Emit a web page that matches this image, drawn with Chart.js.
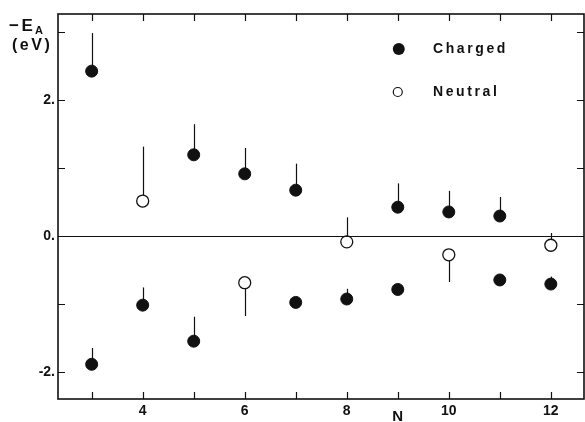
<!DOCTYPE html>
<html>
<head>
<meta charset="utf-8">
<script src="https://cdn.jsdelivr.net/npm/chart.js@4"></script>
<style>
  html, body { margin: 0; padding: 0; background: #fff; }
  canvas { display: block; }
</style>
</head>
<body>
<canvas id="eaChart" width="585" height="422"></canvas>
<script>
// cluster size N, energy -E_A (eV), and end of the vertical bar for each point
const chargedN   = [3, 5, 6, 7, 9, 10, 11, 3, 4, 5, 7, 8, 9, 11, 12];
const chargedE   = [2.42, 1.19, 0.91, 0.67, 0.42, 0.35, 0.29, -1.89, -1.02, -1.55, -0.98, -0.93, -0.79, -0.65, -0.71];
const chargedBar = [2.98, 1.64, 1.29, 1.06, 0.77, 0.66, 0.57, -1.65, -0.76, -1.19, null, -0.78, null, null, -0.60];

const neutralN   = [4, 6, 8, 10, 12];
const neutralE   = [0.51, -0.69, -0.09, -0.28, -0.14];
const neutralBar = [1.31, -1.18, 0.27, -0.68, 0.04];

const xTicks = [4, 6, 8, 10, 12];
const yTicks = [-2, 0, 2];
const xMinor = [3, 4, 5, 6, 7, 8, 9, 10, 11, 12];
const yMinor = [-2, -1, 0, 1, 2, 3];

const ink = '#111';
const family = '"Liberation Sans", Arial, sans-serif';

function pts(xs, ys) {
  return xs.map((x, i) => ({ x: x, y: ys[i] }));
}

// thin vertical bars from each point to its bar end
const errorBars = {
  id: 'errorBars',
  beforeDatasetsDraw(chart) {
    const ctx = chart.ctx, xs = chart.scales.x, ys = chart.scales.y;
    ctx.save();
    ctx.strokeStyle = ink;
    ctx.lineWidth = 1.2;
    [[chargedN, chargedE, chargedBar], [neutralN, neutralE, neutralBar]].forEach(([n, e, b]) => {
      n.forEach((x, i) => {
        if (b[i] === null) return;
        const px = Math.round(xs.getPixelForValue(x)) + 0.5;
        ctx.beginPath();
        ctx.moveTo(px, ys.getPixelForValue(e[i]));
        ctx.lineTo(px, ys.getPixelForValue(b[i]));
        ctx.stroke();
      });
    });
    ctx.restore();
  }
};

// frame, inward ticks, zero line and the text around the plot
const frame = {
  id: 'frame',
  afterDraw(chart) {
    const ctx = chart.ctx, a = chart.chartArea, xs = chart.scales.x, ys = chart.scales.y;
    const t = 7;
    ctx.save();
    ctx.strokeStyle = ink;
    ctx.lineWidth = 1.6;
    ctx.strokeRect(a.left, a.top, a.right - a.left, a.bottom - a.top);

    ctx.lineWidth = 1.2;
    ctx.beginPath();
    xMinor.forEach(v => {
      const px = Math.round(xs.getPixelForValue(v)) + 0.5;
      ctx.moveTo(px, a.bottom); ctx.lineTo(px, a.bottom - t);
      ctx.moveTo(px, a.top); ctx.lineTo(px, a.top + t);
    });
    yMinor.forEach(v => {
      const py = Math.round(ys.getPixelForValue(v)) + 0.5;
      ctx.moveTo(a.left, py); ctx.lineTo(a.left + t, py);
      ctx.moveTo(a.right, py); ctx.lineTo(a.right - t, py);
    });
    const zy = Math.round(ys.getPixelForValue(0)) + 0.5;
    ctx.moveTo(a.left, zy); ctx.lineTo(a.right, zy);
    ctx.stroke();

    // axis titles
    ctx.fillStyle = ink;
    ctx.textBaseline = 'alphabetic';
    ctx.textAlign = 'left';
    ctx.font = 'bold 17px ' + family;
    ctx.letterSpacing = '2.5px';
    ctx.fillText('\u2212E', 9, 31);
    ctx.letterSpacing = '0px';
    ctx.font = 'bold 11px ' + family;
    ctx.fillText('A', 35, 34);
    ctx.font = 'bold 16px ' + family;
    ctx.letterSpacing = '2.5px';
    ctx.fillText('(eV)', 12, 50);
    ctx.letterSpacing = '0px';
    ctx.font = 'bold 15px ' + family;
    ctx.textAlign = 'center';
    ctx.fillText('N', xs.getPixelForValue(9), 421);

    // legend
    const lx = xs.getPixelForValue(9) + 1;
    const ly1 = 49, ly2 = 92;
    ctx.beginPath();
    ctx.arc(lx, ly1, 6, 0, Math.PI * 2);
    ctx.fill();
    ctx.beginPath();
    ctx.arc(lx - 1, ly2, 4.5, 0, Math.PI * 2);
    ctx.fillStyle = '#fff';
    ctx.fill();
    ctx.lineWidth = 1.2;
    ctx.stroke();
    ctx.fillStyle = ink;
    ctx.font = 'bold 14px ' + family;
    ctx.letterSpacing = '2.6px';
    ctx.textAlign = 'left';
    ctx.textBaseline = 'middle';
    ctx.fillText('Charged', 433, ly1);
    ctx.fillText('Neutral', 433, ly2);
    ctx.restore();
  }
};

new Chart(document.getElementById('eaChart'), {
  type: 'scatter',
  data: {
    datasets: [
      {
        label: 'Charged',
        data: pts(chargedN, chargedE),
        pointRadius: 6,
        pointHoverRadius: 6,
        pointBackgroundColor: ink,
        pointBorderColor: ink,
        pointBorderWidth: 1
      },
      {
        label: 'Neutral',
        data: pts(neutralN, neutralE),
        pointRadius: 6,
        pointHoverRadius: 6,
        pointBackgroundColor: '#fff',
        pointBorderColor: ink,
        pointBorderWidth: 1.3
      }
    ]
  },
  options: {
    responsive: false,
    animation: false,
    layout: { autoPadding: false, padding: { top: 14, right: 1, left: 0, bottom: 0 } },
    plugins: {
      legend: { display: false },
      tooltip: { enabled: false }
    },
    scales: {
      x: {
        type: 'linear',
        min: 2.34,
        max: 12.65,
        afterBuildTicks: s => { s.ticks = xTicks.map(v => ({ value: v })); },
        afterFit: s => { s.height = 23; s.paddingLeft = 0; s.paddingRight = 0; },
        grid: { display: false, drawTicks: false },
        border: { display: false },
        ticks: { color: ink, font: { family: family, size: 14, weight: 'bold' }, padding: 4 }
      },
      y: {
        min: -2.4,
        max: 3.26,
        afterBuildTicks: s => { s.ticks = yTicks.map(v => ({ value: v })); },
        afterFit: s => { s.width = 58; s.paddingTop = 0; s.paddingBottom = 0; },
        grid: { display: false, drawTicks: false },
        border: { display: false },
        ticks: {
          color: ink,
          font: { family: family, size: 14, weight: 'bold' },
          padding: 3,
          callback: v => (v < 0 ? '-' : '') + Math.abs(v) + '.'
        }
      }
    }
  },
  plugins: [errorBars, frame]
});
</script>
</body>
</html>
